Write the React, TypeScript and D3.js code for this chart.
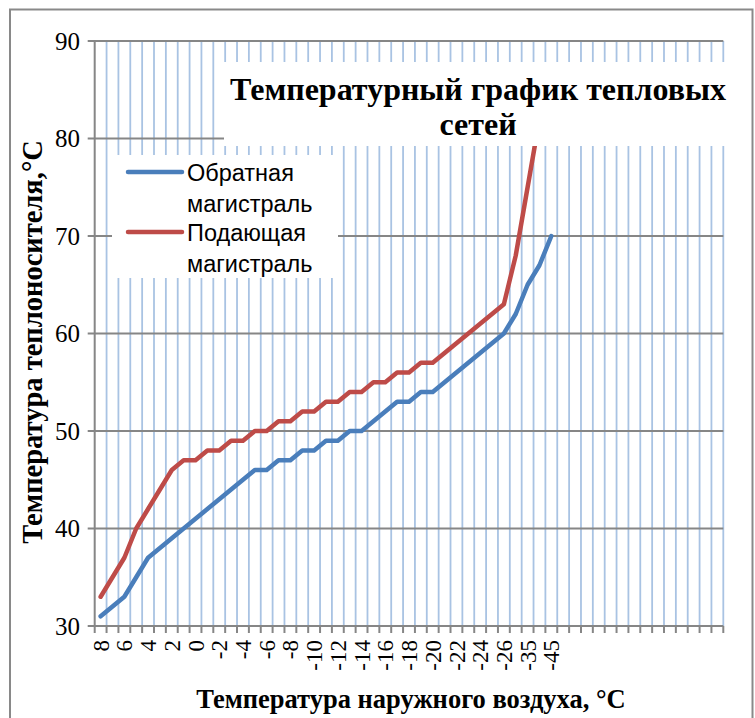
import React, { useEffect, useRef } from "react";
import * as d3 from "d3";

// x categories: outdoor air temperature (the chart keeps some blank columns on the right)
const outdoorTemps = [
    "8", "7", "6", "5", "4", "3", "2", "1", "0", "-1", "-2", "-3", "-4", "-5", "-6", "-7", "-8",
    "-9", "-10", "-11", "-12", "-13", "-14", "-15", "-16", "-17", "-18", "-19", "-20", "-21",
    "-22", "-23", "-24", "-25", "-26", "-30", "-35", "-40", "-45",
];
const blankCategories = ["", "", "", "", "", "", "", "", "", "", "", "", "", ""];

// return line (Обратная магистраль)
const returnTemps = [
    31, 32, 33, 35, 37, 38, 39, 40, 41, 42, 43, 44, 45, 46, 46, 47, 47, 48, 48, 49, 49, 50, 50,
    51, 52, 53, 53, 54, 54, 55, 56, 57, 58, 59, 60, 62, 65, 67, 70,
];
// supply line (Подающая магистраль)
const supplyTemps = [
    33, 35, 37, 40, 42, 44, 46, 47, 47, 48, 48, 49, 49, 50, 50, 51, 51, 52, 52, 53, 53, 54, 54,
    55, 55, 56, 56, 57, 57, 58, 59, 60, 61, 62, 63, 68, 75, 82, 87,
];

const yTicks = [30, 40, 50, 60, 70, 80, 90];
const seriesNames = [
    ["Обратная", "магистраль"],
    ["Подающая", "магистраль"],
];
const seriesColors = ["#4A7EBB", "#BE4B48"];

const serif = "'Liberation Serif', 'Times New Roman', serif";
const sans = "'Liberation Sans', Arial, sans-serif";

const App: React.FC = () => {
    const svgRef = useRef<SVGSVGElement>(null);
    const width = 755;
    const height = 718;

    useEffect(() => {
        if (!svgRef.current) return;
        const svg = d3.select(svgRef.current);
        svg.selectAll("*").remove();

        const categories = [...outdoorTemps, ...blankCategories];
        const left = 94.7, right = 723.3, top = 41, bottom = 626;

        const xScale = d3
            .scaleBand<number>()
            .domain(d3.range(categories.length))
            .range([left, right]);
        const bw = xScale.bandwidth();
        const cx = (i: number) => (xScale(i) ?? 0) + bw / 2;

        const yScale = d3.scaleLinear().domain([30, 90]).range([bottom, top]);

        // outer frame
        svg.append("rect")
            .attr("x", 10).attr("y", 9.5)
            .attr("width", 742.5).attr("height", 730)
            .attr("fill", "white")
            .attr("stroke", "#898989")
            .attr("stroke-width", 2);

        // vertical gridlines (between categories)
        svg.append("g")
            .selectAll("line")
            .data(d3.range(1, categories.length + 1))
            .join("line")
            .attr("x1", k => left + k * bw).attr("x2", k => left + k * bw)
            .attr("y1", top).attr("y2", bottom)
            .attr("stroke", "#A9C3E3")
            .attr("stroke-width", 1.8);

        // horizontal gridlines + y ticks
        svg.append("g")
            .selectAll("line")
            .data(yTicks)
            .join("line")
            .attr("x1", left - 7).attr("x2", right)
            .attr("y1", d => yScale(d)).attr("y2", d => yScale(d))
            .attr("stroke", "#868686")
            .attr("stroke-width", 2);

        // y axis line
        svg.append("line")
            .attr("x1", left).attr("x2", left)
            .attr("y1", top).attr("y2", bottom)
            .attr("stroke", "#868686").attr("stroke-width", 2);

        // x ticks
        svg.append("g")
            .selectAll("line")
            .data(d3.range(0, categories.length + 1))
            .join("line")
            .attr("x1", k => left + k * bw).attr("x2", k => left + k * bw)
            .attr("y1", bottom).attr("y2", bottom + 7)
            .attr("stroke", "#868686")
            .attr("stroke-width", 2);

        // y tick labels
        svg.append("g")
            .selectAll("text")
            .data(yTicks)
            .join("text")
            .attr("x", 80)
            .attr("y", d => yScale(d))
            .attr("dy", "0.35em")
            .attr("text-anchor", "end")
            .style("font-family", serif)
            .style("font-size", "25px")
            .attr("fill", "#000")
            .text(d => d);

        // x tick labels (every second category, rotated)
        svg.append("g")
            .selectAll("text")
            .data(categories.map((c, i) => ({ c, i })).filter(d => d.i % 2 === 0 && d.c !== ""))
            .join("text")
            .attr("transform", d => `translate(${cx(d.i)},${bottom + 14}) rotate(-90)`)
            .attr("dy", "0.35em")
            .attr("text-anchor", "end")
            .style("font-family", serif)
            .style("font-size", "23px")
            .attr("fill", "#000")
            .text(d => d.c);

        // clip for plotted lines
        svg.append("clipPath").attr("id", "plot-clip")
            .append("rect")
            .attr("x", left).attr("y", top)
            .attr("width", right - left).attr("height", bottom - top);

        const line = d3
            .line<number>()
            .x((_, i) => cx(i))
            .y(d => yScale(d));

        [returnTemps, supplyTemps].forEach((series, s) => {
            svg.append("path")
                .datum(series)
                .attr("clip-path", "url(#plot-clip)")
                .attr("fill", "none")
                .attr("stroke", seriesColors[s])
                .attr("stroke-width", 4.5)
                .attr("stroke-linejoin", "round")
                .attr("stroke-linecap", "round")
                .attr("d", line);
        });

        // legend
        const legend = svg.append("g");
        legend.append("rect")
            .attr("x", 112).attr("y", 155)
            .attr("width", 226).attr("height", 123)
            .attr("fill", "white");
        const legendRows = [172, 232];
        seriesNames.forEach((name, s) => {
            legend.append("line")
                .attr("x1", 128).attr("x2", 182)
                .attr("y1", legendRows[s]).attr("y2", legendRows[s])
                .attr("stroke", seriesColors[s])
                .attr("stroke-width", 4.5)
                .attr("stroke-linecap", "round");
            name.forEach((part, j) => {
                legend.append("text")
                    .attr("x", 187)
                    .attr("y", legendRows[s] + 9 + j * 31)
                    .style("font-family", sans)
                    .style("font-size", "23.5px")
                    .attr("fill", "#000")
                    .text(part);
            });
        });

        // chart title in its own white box
        svg.append("rect")
            .attr("x", 224).attr("y", 62)
            .attr("width", 511).attr("height", 84)
            .attr("fill", "white");
        const title = svg.append("text")
            .attr("text-anchor", "middle")
            .style("font-family", serif)
            .style("font-size", "32px")
            .style("font-weight", "bold")
            .attr("fill", "#000");
        title.append("tspan").attr("x", 478).attr("y", 100).text("Температурный график тепловых");
        title.append("tspan").attr("x", 478).attr("y", 135).text("сетей");

        // axis titles
        svg.append("text")
            .attr("x", (left + right) / 2 + 2)
            .attr("y", 708)
            .attr("text-anchor", "middle")
            .style("font-family", serif)
            .style("font-size", "26.5px")
            .style("font-weight", "bold")
            .text("Температура наружного воздуха, °С");

        svg.append("text")
            .attr("transform", `translate(42,342) rotate(-90)`)
            .attr("text-anchor", "middle")
            .style("font-family", serif)
            .style("font-size", "28.5px")
            .style("font-weight", "bold")
            .text("Температура теплоносителя,°С");
    }, []);

    return (
        <svg
            ref={svgRef}
            width={width}
            height={height}
            style={{ position: "absolute", left: 0, top: 0, background: "white" }}
        ></svg>
    );
};

export default App;
